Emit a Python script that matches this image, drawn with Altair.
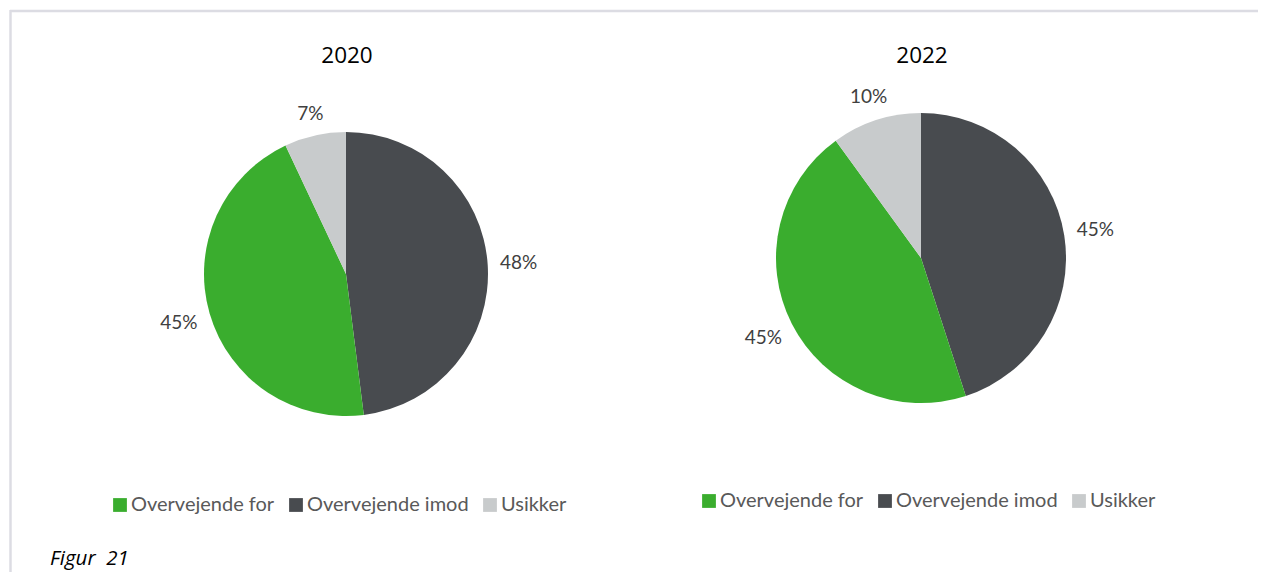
import math
import altair as alt
import pandas as pd

# ---- data -------------------------------------------------------------
slice_order = ["Overvejende imod", "Overvejende for", "Usikker"]   # clockwise from 12 o'clock
legend_order = ["Overvejende for", "Overvejende imod", "Usikker"]
legend_colors = ["#3aad2e", "#484b4f", "#c8cbcc"]
values_2020 = [48, 45, 7]
values_2022 = [45, 45, 10]
years = ["2020", "2022"]
caption = "Figur\u00a0 21"

W, H = 1250, 564
theta_scale = alt.Scale(domain=[0, 100], range=[0, 2 * math.pi])


def pie(year, vals, cx, cy, r, lx, ly):
    df = pd.DataFrame({"category": slice_order, "value": vals,
                       "order": list(range(len(vals))), "year": year})
    base = alt.Chart(df).transform_window(
        cum="sum(value)", sort=[alt.SortField("order")], frame=[None, 0]
    ).transform_calculate(
        start="datum.cum - datum.value",
        mid="datum.cum - datum.value / 2",
        label="datum.value + '%'",
    )
    arcs = base.mark_arc(x=cx, y=cy, outerRadius=r, strokeWidth=0).encode(
        theta=alt.Theta("start:Q", stack=None, scale=theta_scale),
        theta2="cum:Q",
        color=alt.Color(
            "category:N",
            scale=alt.Scale(domain=legend_order, range=legend_colors),
            legend=alt.Legend(
                orient="none", direction="horizontal", legendX=lx, legendY=ly,
                title=None, symbolType="square", symbolSize=190,
                symbolStrokeWidth=0, labelFont="Lato", labelFontSize=20,
                labelColor="#595959", labelOffset=1, columnPadding=11,
                labelLimit=300, padding=0,
            ),
        ),
    )
    labels = base.transform_calculate(
        rad=f"{r} + 11 + abs(sin(datum.mid / 100 * 2 * PI)) * length(datum.label) * 6.5"
            f" + abs(cos(datum.mid / 100 * 2 * PI)) * 8"
    ).mark_text(
        x=cx, y=cy, font="Lato", fontSize=19, color="#404040",
        align="center", baseline="middle",
    ).encode(
        theta=alt.Theta("mid:Q", stack=None, scale=theta_scale),
        radius=alt.Radius("rad:Q", scale=None),
        text="label:N",
    )
    title = alt.Chart(pd.DataFrame({"t": [year]})).mark_text(
        x=cx + 1, y=48, font="Open Sans", fontSize=22.5, color="#000000",
        align="center", baseline="middle",
    ).encode(text="t:N")
    return alt.layer(arcs, labels, title)


p1 = pie(years[0], values_2020, 338, 266, 142, 102, 487)
p2 = pie(years[1], values_2022, 913, 250, 145, 691, 483)

frame_color = "#dcdce3"
top_line = alt.Chart(pd.DataFrame({"a": [0]})).mark_rule(
    color=frame_color, strokeWidth=2.5
).encode(x=alt.value(2), x2=alt.value(W), y=alt.value(3))
left_line = alt.Chart(pd.DataFrame({"a": [0]})).mark_rule(
    color=frame_color, strokeWidth=2.5
).encode(x=alt.value(2.5), y=alt.value(2), y2=alt.value(H))

cap = alt.Chart(pd.DataFrame({"t": [caption]})).mark_text(
    x=42, y=551, font="Open Sans", fontSize=20.5, fontStyle="italic",
    color="#000000", align="left", baseline="middle",
).encode(text="t:N")

chart = alt.layer(top_line, left_line, p1, p2, cap).resolve_scale(
    color="independent"
).properties(
    width=W, height=H, padding=0,
    autosize=alt.AutoSizeParams(type="none"),
).configure_view(stroke=None)

chart.save("out.html", embed_options={"renderer": "svg", "actions": False})
